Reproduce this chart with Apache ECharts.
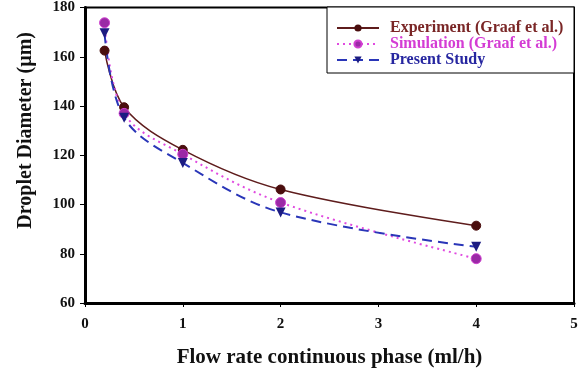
<!DOCTYPE html>
<html><head><meta charset="utf-8">
<script src="https://cdn.jsdelivr.net/npm/echarts@6/dist/echarts.min.js"></script>
<style>html,body{margin:0;padding:0;background:#fff}#c{width:584px;height:373px}</style>
</head><body><div id="c"></div>
<script>
const xValues = [0.2, 0.4, 1, 2, 4];
const experiment = [162.5, 139.5, 122.2, 106.1, 91.4];
const simulation = [173.8, 137.0, 120.4, 100.8, 78.0];
const presentStudy = [169.5, 135.2, 116.9, 96.8, 82.8];
const seriesNames = ['Experiment (Graaf et al.)', 'Simulation (Graaf et al.)', 'Present Study'];
const xTicks = [0, 1, 2, 3, 4, 5];
const yTicks = [60, 80, 100, 120, 140, 160, 180];

const pairs = arr => xValues.map((x, i) => [x, arr[i]]);
const font = '"Liberation Serif","Times New Roman",serif';
const chart = echarts.init(document.getElementById('c'));
chart.setOption({
  animation: false,
  backgroundColor: '#fff',
  grid: { left: 85, right: 10, top: 7, bottom: 66, show: true, borderColor: '#000', borderWidth: 2, containLabel: false },
  xAxis: {
    type: 'value', min: xTicks[0], max: xTicks[xTicks.length - 1], interval: 1,
    axisLine: { lineStyle: { color: '#000', width: 3 } },
    axisTick: { show: true, length: 4, lineStyle: { color: '#000', width: 1 } },
    splitLine: { show: false },
    axisLabel: { fontFamily: font, fontWeight: 'bold', fontSize: 15, color: '#111', margin: 14 },
    name: 'Flow rate continuous phase (ml/h)', nameLocation: 'middle', nameGap: 44,
    nameTextStyle: { fontFamily: font, fontWeight: 'bold', fontSize: 21, color: '#111' }
  },
  yAxis: {
    type: 'value', min: yTicks[0], max: yTicks[yTicks.length - 1], interval: 20,
    axisLine: { show: true, lineStyle: { color: '#000', width: 3 } },
    axisTick: { show: true, length: 5, lineStyle: { color: '#000', width: 1 } },
    splitLine: { show: false },
    axisLabel: { fontFamily: font, fontWeight: 'bold', fontSize: 15, color: '#111', margin: 10 }
  },
  graphic: [
    { type: 'text', left: 16, top: 32, rotation: Math.PI / 2,
      style: { text: 'Droplet Diameter (µm)', font: 'bold 20px ' + font, fill: '#111' } },
    { type: 'rect', shape: { x: 327, y: 7, width: 247, height: 66 }, z: 90,
      style: { fill: '#fff', stroke: '#000', lineWidth: 1 } }
  ],
  legend: {
    orient: 'vertical', left: 331, top: 15, itemWidth: 42, itemHeight: 9, itemGap: 0, z: 100,
    data: [
      { name: seriesNames[0], textStyle: { color: '#7a2626' } },
      { name: seriesNames[1], textStyle: { color: '#d43cd4' } },
      { name: seriesNames[2], textStyle: { color: '#2626a0' } }
    ],
    textStyle: { fontFamily: font, fontWeight: 'bold', fontSize: 16, padding: [0, 0, 0, 6] }
  },
  series: [
    { name: seriesNames[0], type: 'line', data: pairs(experiment), smooth: 0.35,
      symbol: 'circle', symbolSize: 9,
      lineStyle: { color: '#5e1c1c', width: 1.5 },
      itemStyle: { color: '#4a0e0e', borderColor: '#4a0e0e' } },
    { name: seriesNames[1], type: 'line', data: pairs(simulation), smooth: 0.35,
      symbol: 'circle', symbolSize: 10,
      lineStyle: { color: '#e04ae0', width: 2, type: [2, 4] },
      itemStyle: { color: '#9a2aa6', borderColor: '#d040d0', borderWidth: 1 } },
    { name: seriesNames[2], type: 'line', data: pairs(presentStudy), smooth: 0.35,
      symbol: 'triangle', symbolRotate: 180, symbolSize: 10,
      lineStyle: { color: '#2a36b8', width: 2, type: [10, 6] },
      itemStyle: { color: '#1c1c82' } }
  ]
});
</script></body></html>
